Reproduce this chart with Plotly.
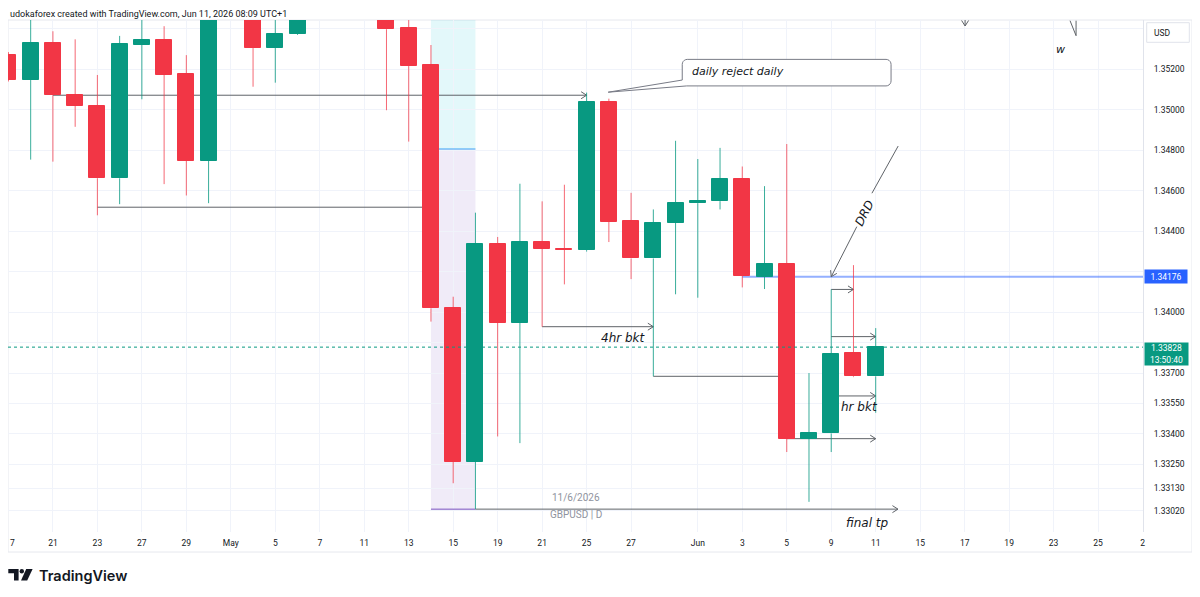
import math
import plotly.graph_objects as go

# ---------------- data (GBPUSD daily) ----------------
dates = [
    "2026-04-17", "2026-04-20", "2026-04-21", "2026-04-22", "2026-04-23", "2026-04-24",
    "2026-04-27", "2026-04-28", "2026-04-29", "2026-04-30", "2026-05-01", "2026-05-04",
    "2026-05-05", "2026-05-06", "2026-05-07", "2026-05-08", "2026-05-11", "2026-05-12",
    "2026-05-13", "2026-05-14", "2026-05-15", "2026-05-18", "2026-05-19", "2026-05-20",
    "2026-05-21", "2026-05-22", "2026-05-25", "2026-05-26", "2026-05-27", "2026-05-28",
    "2026-05-29", "2026-06-01", "2026-06-02", "2026-06-03", "2026-06-04", "2026-06-05",
    "2026-06-08", "2026-06-09", "2026-06-10", "2026-06-11",
]
opens = [
    1.35269, 1.35147, 1.35328, 1.35074, 1.35021, 1.34662, 1.35320, 1.35343, 1.35177, 1.34748,
    1.35560, 1.35560, 1.35305, 1.35375, 1.35530, 1.35600, 1.35720, 1.35650, 1.35402, 1.35220,
    1.34020, 1.33261, 1.34336, 1.33949, 1.34349, 1.34315, 1.34307, 1.35039, 1.34449, 1.34266,
    1.34443, 1.34539, 1.34549, 1.34659, 1.34175, 1.34241, 1.33376, 1.33402, 1.33800, 1.33684,
]
highs = [
    1.35285, 1.35500, 1.35388, 1.35348, 1.35172, 1.35365, 1.35500, 1.35413, 1.35270, 1.35560,
    1.35780, 1.35620, 1.35500, 1.35580, 1.35750, 1.35800, 1.35850, 1.35700, 1.35450, 1.35320,
    1.34077, 1.34492, 1.34372, 1.34635, 1.34548, 1.34630, 1.35085, 1.35055, 1.34590, 1.34508,
    1.34847, 1.34757, 1.34812, 1.34720, 1.34623, 1.34831, 1.33700, 1.34113, 1.34233, 1.33922,
]
lows = [
    1.35140, 1.34754, 1.34744, 1.34916, 1.34479, 1.34534, 1.35052, 1.34633, 1.34577, 1.34539,
    1.35480, 1.35114, 1.35134, 1.35370, 1.35480, 1.35500, 1.35490, 1.34998, 1.34843, 1.33954,
    1.33156, 1.33028, 1.33387, 1.33354, 1.33929, 1.34138, 1.34300, 1.34347, 1.34164, 1.33684,
    1.34089, 1.34072, 1.34508, 1.34123, 1.34115, 1.33310, 1.33064, 1.33310, 1.33680, 1.33504,
]
closes = [
    1.35147, 1.35328, 1.35072, 1.35021, 1.34662, 1.35323, 1.35343, 1.35173, 1.34748, 1.35510,
    1.35700, 1.35305, 1.35375, 1.35530, 1.35600, 1.35720, 1.35650, 1.35398, 1.35216, 1.34020,
    1.33261, 1.34336, 1.33949, 1.34349, 1.34313, 1.34308, 1.35039, 1.34446, 1.34266, 1.34443,
    1.34539, 1.34551, 1.34659, 1.34179, 1.34241, 1.33376, 1.33405, 1.33794, 1.33684, 1.33828,
]

# time-axis ticks (bar positions, trading days incl. future slots) and labels
tick_pos = [0, 2, 4, 6, 8, 10, 12, 14, 16, 18, 20, 22, 24, 26, 28, 31, 33, 35, 37, 39,
            41, 43, 45, 47, 49, 51]
tick_text = ["7", "21", "23", "27", "29", "May", "5", "7", "11", "13", "15", "19", "21",
             "25", "27", "Jun", "3", "5", "9", "11", "15", "17", "19", "23", "25", "2"]

# price-scale grid levels and labels (two labels are hidden under the price tags)
price_ticks = [1.354, 1.352, 1.350, 1.348, 1.346, 1.344, 1.342, 1.340, 1.3385, 1.337,
               1.3355, 1.334, 1.3325, 1.3313, 1.3302]
price_tick_text = ["", "1.35200", "1.35000", "1.34800", "1.34600", "1.34400", "",
                   "1.34000", "", "1.33700", "1.33550", "1.33400", "1.33250",
                   "1.33130", "1.33020"]

last_price = 1.33828
countdown = "13:50:40"
alert_level = 1.34176
# drawing levels (price)
level_line2 = 1.34519
range_split = 1.34806
bkt_level_b = 1.33880
bkt_level_c = 1.33587

# ---------------- geometry (page pixels; page has an 8px body margin) ----------------
OFF = 8
FIG_W, FIG_H = 1200 - OFF, 597 - OFF
PLOT_L, PLOT_T = 8, 20          # page position of the plot area
PW, PH = 1135, 512
M_L = PLOT_L - OFF
M_T = PLOT_T - OFF
M_R = FIG_W - M_L - PW
M_B = FIG_H - M_T - PH
X0, X1 = -0.02, 51.02
Y0, Y1 = 1.329151, 1.354435


def to_px(i, p):
    return PLOT_L + (i - X0) * PW / (X1 - X0), PLOT_T + (Y1 - p) * PH / (Y1 - Y0)


def to_data(px, py):
    return X0 + (px - PLOT_L) * (X1 - X0) / PW, Y1 - (py - PLOT_T) * (Y1 - Y0) / PH


def paper(px, py):
    return (px - PLOT_L) / PW, (PLOT_T + PH - py) / PH


GREEN = "#089981"
RED = "#F23645"
GREEN_W = "rgba(8,153,129,0.8)"
RED_W = "rgba(242,54,69,0.75)"
DRAW = "#5F6368"
INK = "#131722"

n = len(dates)
pos = list(range(n))
up = [c >= o for o, c in zip(opens, closes)]
body_base = [min(o, c) for o, c in zip(opens, closes)]
body_len = [abs(c - o) for o, c in zip(opens, closes)]
body_col = [GREEN if u else RED for u in up]

fig = go.Figure()

for flag, col in [(True, GREEN_W), (False, RED_W)]:
    xs, ys = [], []
    for i in range(n):
        if up[i] != flag:
            continue
        top = max(opens[i], closes[i])
        bot = min(opens[i], closes[i])
        xs += [pos[i], pos[i], None, pos[i], pos[i], None]
        ys += [top, highs[i], None, lows[i], bot, None]
    fig.add_trace(go.Scatter(x=xs, y=ys, mode="lines", line=dict(color=col, width=1),
                             hoverinfo="skip", showlegend=False))

fig.add_trace(go.Bar(
    x=pos, y=body_len, base=body_base, width=0.72,
    marker=dict(color=body_col, line=dict(color=body_col, width=1)),
    customdata=dates, hovertemplate="%{customdata}<extra></extra>", showlegend=False,
))

shapes = []
annotations = []


def fmt(v):
    return f"{v:.6f}"


def hline(x0, x1, y, color=DRAW, width=1, layer="between", dash=None):
    shapes.append(dict(type="line", xref="x", yref="y", x0=x0, x1=x1, y0=y, y1=y,
                       line=dict(color=color, width=width, dash=dash), layer=layer))


def seg(a, b, color=DRAW, width=1, layer="between"):
    shapes.append(dict(type="line", xref="x", yref="y", x0=a[0], y0=a[1], x1=b[0], y1=b[1],
                       line=dict(color=color, width=width), layer=layer))


def chevron(tail, head, length=5.5, half=3.5, color=DRAW, layer="between"):
    hx, hy = to_px(*head)
    tx, ty = to_px(*tail)
    dx, dy = hx - tx, hy - ty
    d = math.hypot(dx, dy)
    ux, uy = dx / d, dy / d
    bx, by = hx - ux * length, hy - uy * length
    p1 = to_data(bx - uy * half, by + ux * half)
    p2 = to_data(bx + uy * half, by - ux * half)
    path = (f"M{fmt(p1[0])},{fmt(p1[1])} L{fmt(head[0])},{fmt(head[1])} "
            f"L{fmt(p2[0])},{fmt(p2[1])}")
    shapes.append(dict(type="path", xref="x", yref="y", path=path,
                       line=dict(color=color, width=1), layer=layer))


def arrow(tail, head, **kw):
    seg(tail, head, **kw)
    chevron(tail, head)


def note(x, y, text, xref="x", yref="y", xanchor="center", size=12, family="DejaVu Sans",
         color=INK, style="italic", **kw):
    annotations.append(dict(x=x, y=y, xref=xref, yref=yref, xanchor=xanchor, yanchor="middle",
                            text=text, showarrow=False,
                            font=dict(family=family, size=size, color=color, style=style), **kw))


# date-range boxes
shapes.append(dict(type="rect", xref="x", yref="y", x0=19, x1=21, y0=range_split, y1=1.3560,
                   fillcolor="rgba(0,188,212,0.11)", line=dict(width=0), layer="below"))
shapes.append(dict(type="rect", xref="x", yref="y", x0=19, x1=21, y0=lows[21], y1=range_split,
                   fillcolor="rgba(103,58,183,0.10)", line=dict(width=0), layer="below"))
hline(19, 21, range_split, color="rgba(66,165,245,0.7)", width=1.5)
hline(19, 21, lows[21], color="rgba(126,87,194,0.7)", width=1.5)

# horizontal drawings
arrow((2, closes[2]), (26, closes[2]))
hline(4, 19, level_line2)
arrow((21, lows[21]), (40, lows[21]))
arrow((24, lows[24]), (29, lows[24]))
hline(29, 35, lows[29])
hline(33, X1, alert_level, color="rgba(41,98,255,0.5)", width=2)
arrow((37, highs[37]), (38, highs[37]))
arrow((37, bkt_level_b), (39, bkt_level_b))
arrow((37, bkt_level_c), (39, bkt_level_c))
arrow((35, closes[35]), (39, closes[35]))

# DRD diagonal arrow
drd_top = (40.01, 1.34821)
drd_a = (38.83, 1.34588)
drd_b = (38.15, 1.34423)
drd_tip = (37.0, alert_level)
seg(drd_top, drd_a)
arrow(drd_b, drd_tip)
note(38.50, 1.34490, "DRD", textangle=-63)

# remnants of drawings at top right
arrow((43.02, 1.35470), (43.02, 1.35414))
seg((47.74, 1.35440), (48.01, 1.35366))
seg((48.01, 1.35440), (48.01, 1.35366))
note(47.29, 1.35300, "w", size=11)

# callout "daily reject daily"
cb_x0, cb_x1, cb_top, cb_bot = 30.30, 39.69, 1.35249, 1.35118
tip = (26.97, 1.35087)
base_left_y = 1.35147
base_bot_x = 30.50
L_, T_ = to_px(cb_x0, cb_top)
R_, B_ = to_px(cb_x1, cb_bot)
r = 5.0
pts = []


def arc(cx, cy, a0, a1, steps=5):
    for k in range(steps + 1):
        a = math.radians(a0 + (a1 - a0) * k / steps)
        pts.append((cx + r * math.cos(a), cy + r * math.sin(a)))


arc(L_ + r, T_ + r, 180, 270)
arc(R_ - r, T_ + r, 270, 360)
arc(R_ - r, B_ - r, 0, 90)
pts.append(to_px(base_bot_x, cb_bot))
pts.append(to_px(*tip))
pts.append(to_px(cb_x0, base_left_y))
dpts = [to_data(px, py) for px, py in pts]
cpath = "M" + " L".join(f"{fmt(a)},{fmt(b)}" for a, b in dpts) + " Z"
shapes.append(dict(type="path", xref="x", yref="y", path=cpath, fillcolor="white",
                   line=dict(color="#787B86", width=1), layer="above"))
note(30.65, 1.35187, "daily reject daily", xanchor="left", size=11)

# text labels of drawings
note(28.76, 1.33873, "4hr bkt", xanchor="right")
note(37.35, 1.33532, "hr bkt", xanchor="left")
note(38.63, 1.32962, "final tp")

# current price dotted line
shapes.append(dict(type="line", xref="paper", yref="y", x0=0, x1=1, y0=last_price, y1=last_price,
                   line=dict(color=GREEN, width=1, dash="dot"), layer="above"))

# watermark
wx, wy = paper(576, 497)
note(wx, wy, "11/6/2026", xref="paper", yref="paper", family="Roboto", size=10,
     color="#8F939E", style="normal")
wx, wy = paper(576, 514)
note(wx, wy, "GBPUSD | D", xref="paper", yref="paper", family="Roboto", size=10,
     color="#8F939E", style="normal")

# first (partly cut) time label at the left edge
lx0, _ = paper(7.5, 0)
annotations.append(dict(x=lx0, y=0, xref="paper", yref="paper", xanchor="left", yanchor="top",
                        yshift=-4, text=tick_text[0], showarrow=False,
                        font=dict(family="Roboto", size=8.5, color=INK)))

# price axis labels
bx, _ = paper(1144, 0)
annotations.append(dict(x=bx, y=alert_level, xref="paper", yref="y", xanchor="left", yanchor="middle",
                        text=f"{alert_level:.5f}", showarrow=False, bgcolor="#2962FF",
                        width=40, height=11, borderpad=1, align="center",
                        font=dict(family="Roboto", size=8.5, color="white")))
annotations.append(dict(x=bx, y=last_price, xref="paper", yref="y", xanchor="left", yanchor="top",
                        yshift=5.5, text=f"{last_price:.5f}<br>{countdown}", showarrow=False,
                        bgcolor=GREEN, width=41, height=20, borderpad=1, align="center",
                        font=dict(family="Roboto", size=8.5, color="white")))
ux0, uy0 = paper(1146.7, 42.3)
ux1, uy1 = paper(1189.3, 22.7)
shapes.append(dict(type="rect", xref="paper", yref="paper", x0=ux0, x1=ux1, y0=uy0, y1=uy1,
                   line=dict(color="#E0E3EB", width=1), fillcolor="white", layer="above"))
tx, ty = paper(1152, 32.5)
note(tx, ty, "USD", xref="paper", yref="paper", xanchor="left", family="Roboto", size=8.5,
     style="normal")

# frame
fx0, fy0 = paper(8, 552)
fx1, fy1 = paper(1192, 20)
shapes.append(dict(type="rect", xref="paper", yref="paper", x0=fx0, x1=fx1, y0=fy0, y1=fy1,
                   line=dict(color="#E6E8EE", width=1), layer="below"))

# header
hx, hy = paper(8, 13.5)
note(hx, hy, "udokaforex created with TradingView.com, Jun 11, 2026 08:09 UTC+1",
     xref="paper", yref="paper", xanchor="left", family="Roboto", size=9, style="normal")

# TradingView logo


def ppath(points):
    ps = [paper(a, b) for a, b in points]
    return "M" + " L".join(f"{fmt(a)},{fmt(b)}" for a, b in ps) + " Z"


shapes.append(dict(type="path", xref="paper", yref="paper",
                   path=ppath([(8.3, 569), (18.6, 569), (18.6, 580.5), (14.0, 580.5),
                               (14.0, 573.2), (8.3, 573.2)]),
                   fillcolor=INK, line=dict(width=0), layer="above"))
c0 = paper(19.6, 573.4)
c1 = paper(24.0, 569.0)
shapes.append(dict(type="circle", xref="paper", yref="paper", x0=c0[0], x1=c1[0], y0=c0[1], y1=c1[1],
                   fillcolor=INK, line=dict(width=0), layer="above"))
shapes.append(dict(type="path", xref="paper", yref="paper",
                   path=ppath([(26.2, 569), (32.6, 569), (27.2, 580.5), (21.0, 580.5)]),
                   fillcolor=INK, line=dict(width=0), layer="above"))
lx, ly = paper(36.5, 575)
annotations.append(dict(x=lx, y=ly, xref="paper", yref="paper", xanchor="left", yanchor="middle",
                        text="TradingView", showarrow=False,
                        font=dict(family="Inter", size=14.5, color=INK, weight=600)))

fig.update_layout(
    width=FIG_W, height=FIG_H,
    margin=dict(l=M_L, r=M_R, t=M_T, b=M_B, pad=0, autoexpand=False),
    paper_bgcolor="white", plot_bgcolor="white",
    showlegend=False, bargap=0,
    shapes=shapes, annotations=annotations,
    xaxis=dict(range=[X0, X1], tickmode="array", tickvals=tick_pos,
               ticktext=[""] + tick_text[1:],
               showgrid=True, gridcolor="#F0F3FA", gridwidth=1, zeroline=False, showline=False,
               ticks="", ticklabelstandoff=4,
               tickfont=dict(family="Roboto", size=8.5, color=INK), automargin=False,
               fixedrange=True),
    yaxis=dict(range=[Y0, Y1], side="right", tickmode="array", tickvals=price_ticks,
               ticktext=price_tick_text, showgrid=True, gridcolor="#F0F3FA", gridwidth=1,
               zeroline=False, showline=True, linecolor="#E0E3EB", linewidth=1, ticks="",
               ticklabelstandoff=8, tickfont=dict(family="Roboto", size=8.5, color=INK),
               automargin=False, fixedrange=True),
)

fig.write_html("out.html")
